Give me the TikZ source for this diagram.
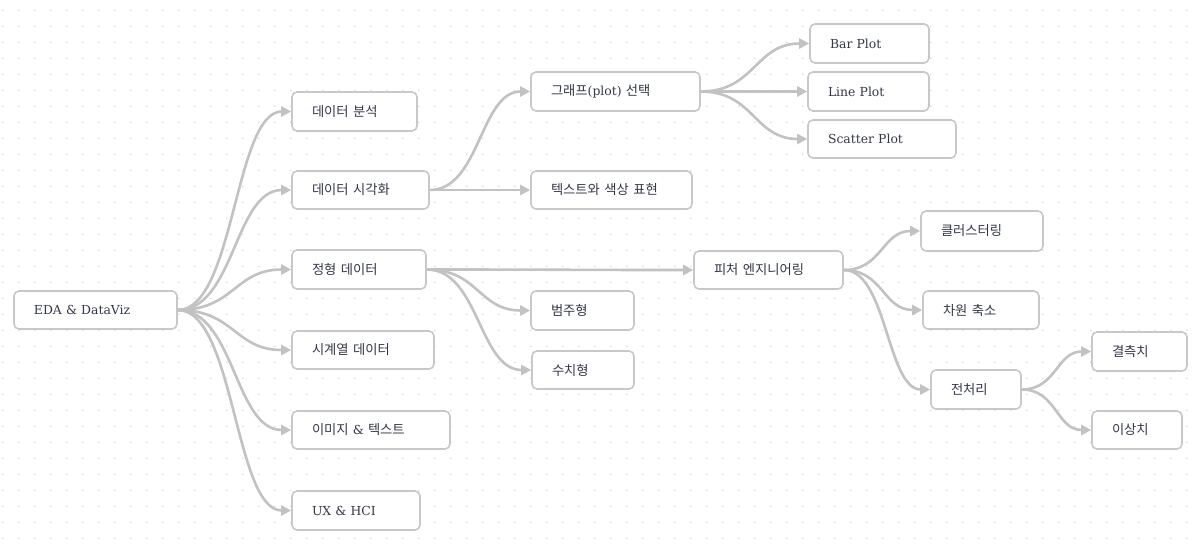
\documentclass[tikz,border=0pt]{standalone}
\usepackage{fontspec}
\setmainfont{DejaVu Serif}
\newfontfamily\kr[WordSpace=2.3]{Noto Sans CJK KR}
\usetikzlibrary{arrows.meta,calc}
\definecolor{txt}{HTML}{343747}
\definecolor{boxc}{HTML}{C8C8C8}
\definecolor{edgec}{HTML}{C2C2C2}
\definecolor{dotc}{HTML}{D6D6D6}
\begin{document}
\begin{tikzpicture}[x=1pt,y=-1pt,
  box/.style={draw=boxc,line width=1.6pt,rounded corners=5pt,fill=white,text=txt,
    inner xsep=20pt,inner ysep=0pt,align=left,
    font=\fontsize{12.4}{14}\selectfont},
  kbox/.style={box,font=\kr\fontsize{13.3}{14}\selectfont},
  edge/.style={draw=edgec,line width=2.6pt,-{Triangle[length=10pt,width=10pt]}},
  conn/.style={to path={let \p1=(\tikztostart),\p2=(\tikztotarget),\n1={(\x2-\x1)/2} in
     (\tikztostart) .. controls +(\n1,0) and +(-\n1,0) .. (\tikztotarget)}}
]
\useasboundingbox (0,0) rectangle (1195,544);
\fill[white] (0,0) rectangle (1195,544);
\foreach \i in {0,...,74}
  \foreach \j in {0,...,33}
    \fill[dotc] (2.8+16*\i,10.3+16*\j) circle (0.8);

% nodes (text width = box width - 40)
\node[box,text width=123pt,minimum height=38pt] (root) at (95.5,310) {EDA \& DataViz};
\node[kbox,text width=85pt,minimum height=39pt] (a1) at (354.5,111.5) {데이터 분석};
\node[kbox,text width=97pt,minimum height=38pt] (a2) at (360.5,190) {데이터 시각화};
\node[kbox,text width=94pt,minimum height=39pt] (a3) at (359,269.5) {정형 데이터};
\node[kbox,text width=102pt,minimum height=38pt] (a4) at (363,350) {시계열 데이터};
\node[box,text width=118pt,minimum height=38pt] (a5) at (371,430) {{\kr\fontsize{13.3}{14}\selectfont 이미지} \& {\kr\fontsize{13.3}{14}\selectfont 텍스트}};
\node[box,text width=88pt,minimum height=39pt] (a6) at (356,510.5) {UX \& HCI};

\node[box,text width=129pt,minimum height=39pt] (b1) at (615.5,91.5) {{\kr\fontsize{13.3}{14}\selectfont 그래프}(plot) {\kr\fontsize{13.3}{14}\selectfont 선택}};
\node[kbox,text width=121pt,minimum height=38pt] (b2) at (611.5,190) {텍스트와 색상 표현};

\node[box,text width=79pt,minimum height=39pt] (c1) at (869.5,43.5) {Bar Plot};
\node[box,text width=81pt,minimum height=39pt] (c2) at (868.5,91.5) {Line Plot};
\node[box,text width=108pt,minimum height=38pt] (c3) at (882,139) {Scatter Plot};

\node[kbox,text width=109pt,minimum height=38pt] (d1) at (768.5,270) {피처 엔지니어링};
\node[kbox,text width=63pt,minimum height=39pt] (d2) at (582.5,310.5) {범주형};
\node[kbox,text width=62pt,minimum height=38pt] (d3) at (583,370) {수치형};

\node[kbox,text width=82pt,minimum height=40pt] (e1) at (982,231) {클러스터링};
\node[kbox,text width=76pt,minimum height=38pt] (e2) at (981,310) {차원 축소};
\node[kbox,text width=50pt,minimum height=39pt] (e3) at (976,389.5) {전처리};

\node[kbox,text width=55pt,minimum height=39pt] (f1) at (1139.5,351.5) {결측치};
\node[kbox,text width=50pt,minimum height=38pt] (f2) at (1137,430) {이상치};

% connectors
\foreach \s/\t in {root/a1,root/a2,root/a3,root/a4,root/a5,root/a6,
                   a2/b1,a2/b2,a3/d1,a3/d2,a3/d3,
                   b1/c1,b1/c2,b1/c3,
                   d1/e1,d1/e2,d1/e3,
                   e3/f1,e3/f2}
  \draw[edge] (\s.east) to[conn] (\t.west);
\end{tikzpicture}
\end{document}
